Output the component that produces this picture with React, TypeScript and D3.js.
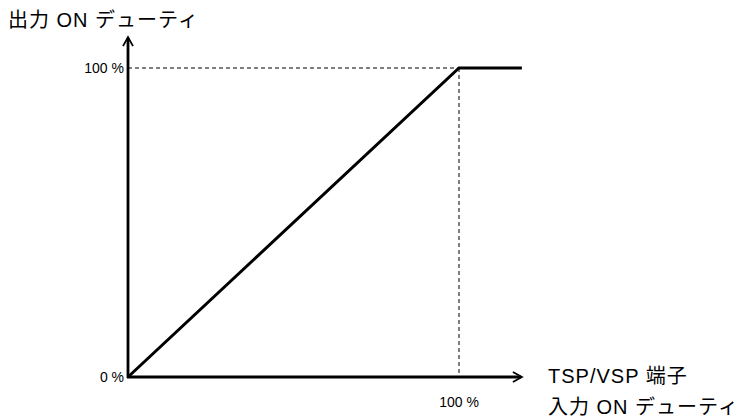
import React from 'react';
import * as d3 from 'd3';

// input duty (%) vs output duty (%)
const inputDuty = [0, 100, 119];
const outputDuty = [0, 100, 100];
const refTicks = [100];
const yLabel = '出力 ON デューティ';
const xLabelLines = ['TSP/VSP 端子', '入力 ON デューティ'];

const W = 739;
const H = 417;
const FONT = '"Liberation Sans", Arial, "Noto Sans CJK JP", sans-serif';

export default function App() {
  const x = d3.scaleLinear().domain([0, 100]).range([128, 459]);
  const y = d3.scaleLinear().domain([0, 100]).range([377, 68]);

  const xEnd = x(119);
  const yEnd = y(110);

  const pts: [number, number][] = inputDuty.map((d, i) => [d, outputDuty[i]]);
  const line = d3.line<[number, number]>()
    .x(d => x(d[0]))
    .y(d => y(d[1]));

  const arrowLen = 9;
  const arrowHalf = 5;

  return (
    <svg width={W} height={H} style={{ position: 'absolute', left: 0, top: 0 }}>
      <rect width={W} height={H} fill="#fff" />

      {/* dashed guides */}
      {refTicks.map(t => (
        <g key={'guide-' + t} stroke="#000" strokeWidth={1} strokeDasharray="4,3" fill="none">
          <line x1={x(0)} x2={x(t)} y1={y(t)} y2={y(t)} />
          <line x1={x(t)} x2={x(t)} y1={y(t)} y2={y(0)} />
        </g>
      ))}

      {/* axes */}
      <g stroke="#000" fill="none" strokeWidth={2.8}>
        <line x1={x(0)} x2={x(0)} y1={y(0) + 1} y2={yEnd + 1} />
        <line x1={x(0) - 1} x2={xEnd - 1} y1={y(0)} y2={y(0)} />
      </g>
      <g stroke="#000" fill="none" strokeWidth={1.8}>
        <path d={`M${x(0) - arrowHalf},${yEnd + arrowLen} L${x(0)},${yEnd} L${x(0) + arrowHalf},${yEnd + arrowLen}`} />
        <path d={`M${xEnd - arrowLen},${y(0) - arrowHalf} L${xEnd},${y(0)} L${xEnd - arrowLen},${y(0) + arrowHalf}`} />
      </g>

      {/* characteristic line */}
      <path d={line(pts) || ''} stroke="#000" strokeWidth={3} fill="none" strokeLinejoin="miter" />

      {/* tick labels */}
      <g fontFamily={FONT} fontSize={14} fill="#000">
        <text x={124} y={y(0)} dy="0.35em" textAnchor="end">0 %</text>
        {refTicks.map(t => (
          <text key={'yt-' + t} x={124} y={y(t)} dy="0.35em" textAnchor="end">{t} %</text>
        ))}
        {refTicks.map(t => (
          <text key={'xt-' + t} x={x(t)} y={407} textAnchor="middle">{t} %</text>
        ))}
      </g>

      {/* axis titles */}
      <g fontFamily={FONT} fontSize={20} fill="#000" letterSpacing={1}>
        <text x={8} y={27}>{yLabel}</text>
        {xLabelLines.map((s, i) => (
          <text key={'xl-' + i} x={548} y={383 + i * 31}>{s}</text>
        ))}
      </g>
    </svg>
  );
}
